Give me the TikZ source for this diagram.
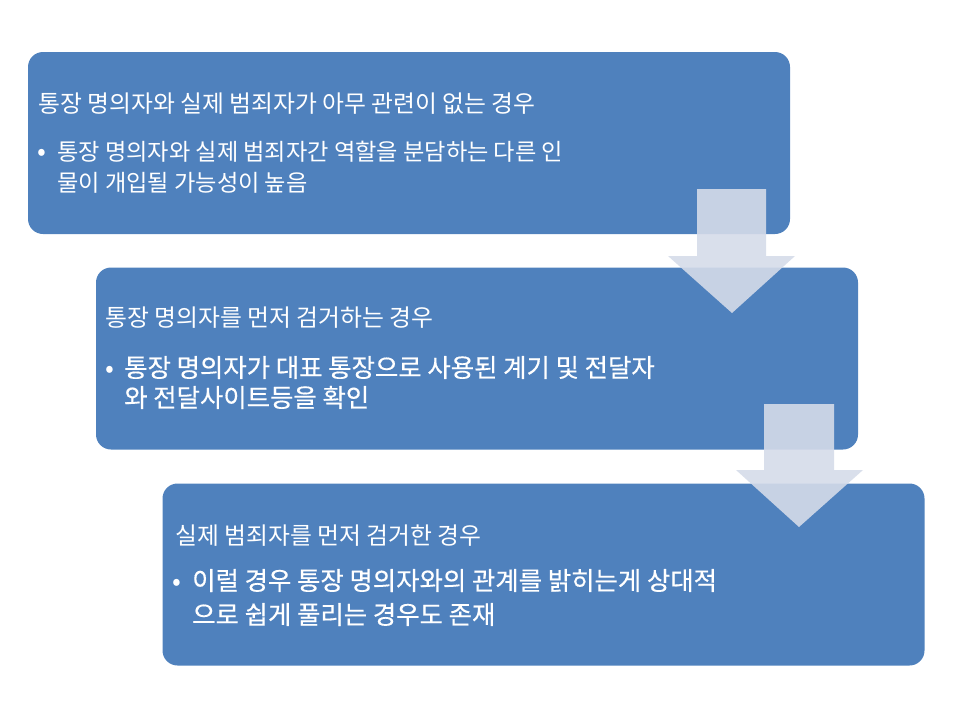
\documentclass[tikz,border=0pt]{standalone}
\usepackage{fontspec}
\setmainfont{Noto Sans CJK KR}
\newfontfamily\kbold{Noto Sans CJK KR}[FakeBold=0.4]
\definecolor{boxblue}{RGB}{79,129,189}
\definecolor{arrowfill}{RGB}{213,219,233}
\tikzset{
  flowbox/.style={draw=none, fill=boxblue, rounded corners=15pt, minimum width=762pt, minimum height=182pt, inner sep=0pt},
  head/.style={anchor=base west, inner sep=0pt, text=white, font=\fontsize{23.8}{28}\selectfont},
  bul/.style={anchor=base west, inner sep=0pt, text=white, font=\fontsize{23.2}{28}\selectfont},
  bulb/.style={anchor=base west, inner sep=0pt, text=white, font=\kbold\fontsize{25.4}{30}\selectfont},
  dot/.style={anchor=base, inner sep=0pt, text=white, font=\fontsize{26}{30}\selectfont},
  downarrow/.style={fill=arrowfill, fill opacity=0.9, draw=none}
}
\begin{document}
\begin{tikzpicture}[x=1pt,y=-1pt]
\useasboundingbox (0,0) rectangle (960,720);
% boxes
\node[flowbox] (b1) at (409,143) {};
\node[flowbox] (b2) at (477,358.5) {};
\node[flowbox] (b3) at (543.5,574.5) {};
% box 1 text
\node[head] (t1) at (38,112) {통장 명의자와 실제 범죄자가 아무 관련이 없는 경우};
\node[dot] (d1) at (42,160) {•};
\node[bul] (t1a) at (57,160) {통장 명의자와 실제 범죄자간 역할을 분담하는 다른 인};
\node[bul] (t1b) at (57,191) {물이 개입될 가능성이 높음};
% box 2 text
\node[head] (t2) at (105,326) {통장 명의자를 먼저 검거하는 경우};
\node[dot] (d2) at (110,377) {•};
\node[bulb] (t2a) at (124,377) {통장 명의자가 대표 통장으로 사용된 계기 및 전달자};
\node[bulb] (t2b) at (124,407) {와 전달사이트등을 확인};
% box 3 text
\node[head] (t3) at (175,544) {실제 범죄자를 먼저 검거한 경우};
\node[dot] (d3) at (177,590) {•};
\node[bulb] (t3a) at (192,590) {이럴 경우 통장 명의자와의 관계를 밝히는게 상대적};
\node[bulb] (t3b) at (192,624) {으로 쉽게 풀리는 경우도 존재};
% arrows
\coordinate (a1) at (732,313);
\coordinate (a2) at (799,527);
\fill[downarrow] (697,189) -- (766,189) -- (766,256) -- (795,256) -- (a1) -- (668,256) -- (697,256) -- cycle;
\fill[downarrow] (764,404) -- (834,404) -- (834,470) -- (863,470) -- (a2) -- (736,470) -- (764,470) -- cycle;
\end{tikzpicture}
\end{document}
